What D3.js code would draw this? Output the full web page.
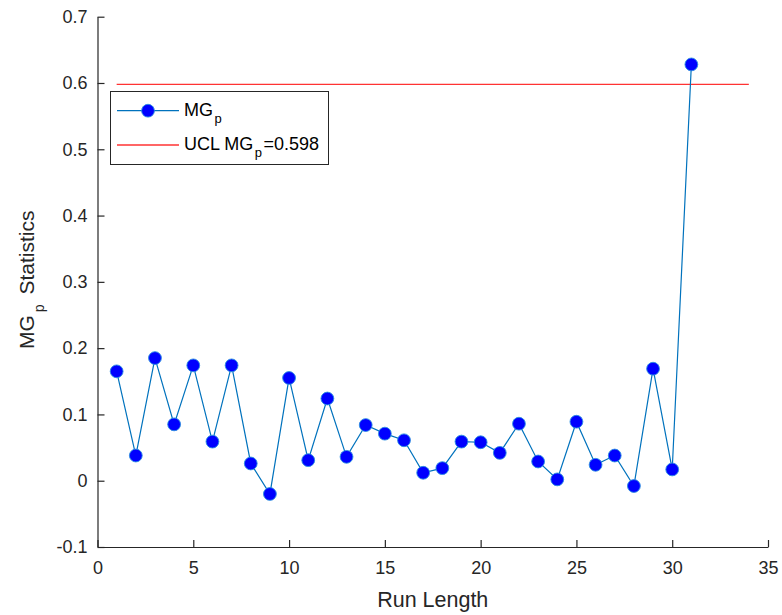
<!DOCTYPE html>
<html>
<head>
<meta charset="utf-8">
<script src="https://cdn.jsdelivr.net/npm/d3@7"></script>
<style>
  html, body { margin: 0; padding: 0; background: #fff; }
  svg { display: block; font-family: "Liberation Sans", Arial, Helvetica, sans-serif; }
</style>
</head>
<body>
<svg id="chart" width="782" height="615"></svg>
<script>
// Run lengths 1..31 and the monitored MG_p statistic at each run
const runs = d3.range(1, 32);
const mgp = [0.165, 0.038, 0.185, 0.085, 0.174, 0.059, 0.174, 0.026, -0.020, 0.155,
             0.031, 0.124, 0.036, 0.084, 0.071, 0.061, 0.012, 0.019, 0.059, 0.058,
             0.042, 0.086, 0.029, 0.002, 0.089, 0.024, 0.038, -0.008, 0.169, 0.017,
             0.628];
// Upper control limit, drawn from run 1 to run 34
const ucl = 0.598;
const uclRange = [1, 34];
const xTicks = [0, 5, 10, 15, 20, 25, 30, 35];
const yTicks = [-0.1, 0, 0.1, 0.2, 0.3, 0.4, 0.5, 0.6, 0.7];

const svg = d3.select("#chart");
const plot = { left: 97.5, right: 768, top: 16.7, bottom: 547 };
const axisColor = "#262626";

const x = d3.scaleLinear().domain([0, 35]).range([plot.left, plot.right]);
const y = d3.scaleLinear().domain([-0.1, 0.7]).range([plot.bottom, plot.top]);

const yFmt = d => Math.abs(d) < 1e-9 ? "0" : d3.format(".1f")(d).replace("\u2212", "-");

// Axes with inward ticks
const xAxis = svg.append("g").attr("transform", `translate(0,${plot.bottom})`)
  .call(d3.axisBottom(x).tickValues(xTicks).tickFormat(d3.format("d")).tickSizeInner(-7).tickSizeOuter(0).tickPadding(14));
const yAxis = svg.append("g").attr("transform", `translate(${plot.left},0)`)
  .call(d3.axisLeft(y).tickValues(yTicks).tickFormat(yFmt).tickSizeInner(-7).tickSizeOuter(0).tickPadding(10));

[xAxis, yAxis].forEach(g => {
  g.select(".domain").attr("stroke", axisColor).attr("stroke-width", 1.2);
  g.selectAll(".tick line").attr("stroke", axisColor).attr("stroke-width", 1.2);
  g.selectAll(".tick text").attr("fill", axisColor).style("font-size", "18px").style("font-family", "'Liberation Sans', Arial, sans-serif");
});

// UCL line
svg.append("line")
  .attr("x1", x(uclRange[0])).attr("x2", x(uclRange[1]))
  .attr("y1", y(ucl)).attr("y2", y(ucl))
  .attr("stroke", "#ff3333").attr("stroke-width", 1.3);

// Statistic series
const line = d3.line().x((d, i) => x(runs[i])).y(d => y(d));
svg.append("path").datum(mgp)
  .attr("d", line).attr("fill", "none")
  .attr("stroke", "#0072BD").attr("stroke-width", 1.2);

svg.append("g").selectAll("circle").data(mgp).join("circle")
  .attr("cx", (d, i) => x(runs[i])).attr("cy", d => y(d))
  .attr("r", 6.4)
  .attr("fill", "#0000FF").attr("stroke", "#2a8fe0").attr("stroke-width", 0.9);

// Axis labels
svg.append("text")
  .attr("x", (plot.left + plot.right) / 2).attr("y", 607)
  .attr("text-anchor", "middle").attr("fill", axisColor)
  .style("font-size", "21.5px")
  .text("Run Length");

const yl = svg.append("text")
  .attr("transform", `translate(34,${(plot.top + plot.bottom) / 2 - 2}) rotate(-90)`)
  .attr("text-anchor", "middle").attr("fill", axisColor)
  .style("font-size", "21px");
yl.append("tspan").text("MG");
yl.append("tspan").attr("dx", 3).attr("dy", 10).style("font-size", "14px").text("p");
yl.append("tspan").attr("dx", 4).attr("dy", -10).text(" Statistics");

// Legend
const lg = svg.append("g");
lg.append("rect")
  .attr("x", 110.5).attr("y", 91.5).attr("width", 218).attr("height", 73)
  .attr("fill", "#fff").attr("stroke", axisColor).attr("stroke-width", 1);
lg.append("line").attr("x1", 117).attr("x2", 179).attr("y1", 110.7).attr("y2", 110.7)
  .attr("stroke", "#0072BD").attr("stroke-width", 1.2);
lg.append("circle").attr("cx", 148).attr("cy", 110.7).attr("r", 6.4)
  .attr("fill", "#0000FF").attr("stroke", "#2a8fe0").attr("stroke-width", 0.9);
lg.append("line").attr("x1", 117).attr("x2", 179).attr("y1", 145).attr("y2", 145)
  .attr("stroke", "#ff3333").attr("stroke-width", 1.3);

const t1 = lg.append("text").attr("x", 184).attr("y", 116).attr("fill", "#000").style("font-size", "18px");
t1.append("tspan").text("MG");
t1.append("tspan").attr("dx", 1.5).attr("dy", 7).style("font-size", "13px").text("p");

const t2 = lg.append("text").attr("x", 184).attr("y", 150).attr("fill", "#000").style("font-size", "18px");
t2.append("tspan").text("UCL MG");
t2.append("tspan").attr("dx", 1.5).attr("dy", 7).style("font-size", "13px").text("p");
t2.append("tspan").attr("dx", 1.5).attr("dy", -7).text("=" + ucl);
</script>
</body>
</html>
